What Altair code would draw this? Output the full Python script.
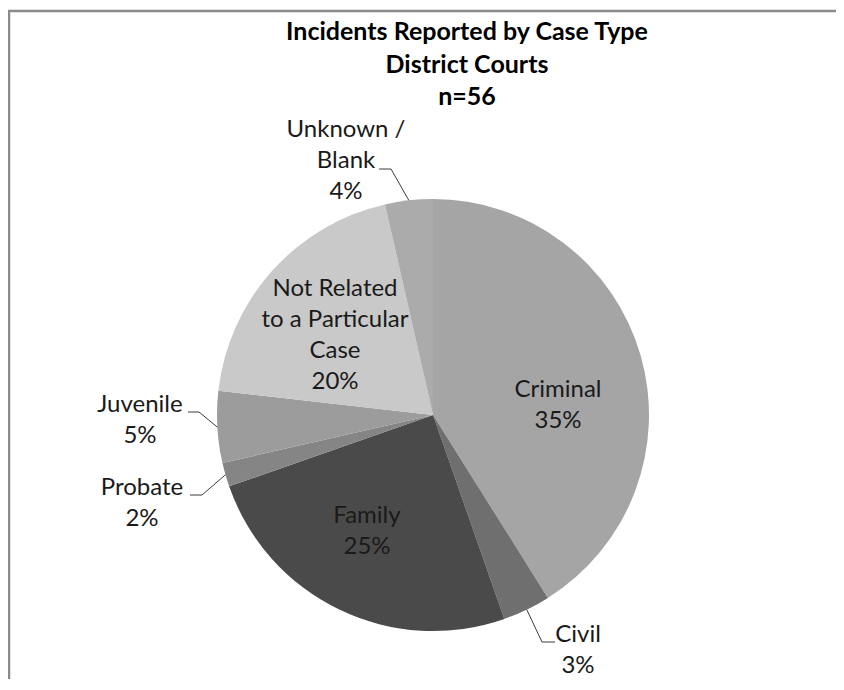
import math
import altair as alt
import pandas as pd

# ---------------- data ----------------
categories = ["Criminal", "Civil", "Family", "Probate", "Juvenile",
              "Not Related to a Particular Case", "Unknown / Blank"]
counts = [23, 2, 14, 1, 3, 11, 2]
pct_labels = ["35%", "3%", "25%", "2%", "5%", "20%", "4%"]
label_names = ["Criminal", "Civil", "Family", "Probate", "Juvenile",
               "Not Related\nto a Particular\nCase", "Unknown /\nBlank"]
title_lines = ["Incidents Reported by Case Type", "District Courts", "n=56"]

# ---------------- style / layout ----------------
slice_colors = ["#a5a5a5", "#6f6f6f", "#4a4a4a", "#858585", "#9c9c9c", "#c9c9c9", "#ababab"]
W, H = 828, 671
CX, CY, R = 425, 407, 216
FONT = "Lato"
# label anchor (center x, first baseline y) in view pixels
label_pos = {
    "Criminal": (550, 389),
    "Civil": (570, 634),
    "Family": (359, 515),
    "Probate": (134, 487),
    "Juvenile": (132, 404),
    "Not Related to a Particular Case": (327, 288),
    "Unknown / Blank": (338, 129),
}
# leader: (start x next to label, y of horizontal segment, elbow offset)
leader_pos = {
    "Unknown / Blank": (371, 161, 12),
    "Juvenile": (180, 404, 11),
    "Probate": (182, 487, 12),
    "Civil": (547, 634, -13),
}

total = sum(counts)
pie_df = pd.DataFrame({"case": categories, "count": counts, "idx": list(range(len(categories)))})

lab_rows = []
for c, n, p in zip(categories, label_names, pct_labels):
    x, y = label_pos[c]
    lab_rows.append({"case": c, "txt": n + "\n" + p, "lx": x, "ly": y})
lab_df = pd.DataFrame(lab_rows)

# leader lines: pie anchor computed from the data (mid angle of each slice)
lead_rows = []
cum = 0
for c, v in zip(categories, counts):
    mid = (cum + v / 2) / total * 2 * math.pi
    cum += v
    if c in leader_pos:
        sx, sy, e = leader_pos[c]
        ax = CX + R * math.sin(mid)
        ay = CY - R * math.cos(mid)
        lead_rows += [
            {"case": c, "k": 0, "x": sx, "y": sy},
            {"case": c, "k": 1, "x": sx + e, "y": sy},
            {"case": c, "k": 2, "x": ax, "y": ay},
        ]
lead_df = pd.DataFrame(lead_rows)

title_df = pd.DataFrame({"txt": ["\n".join(title_lines)], "tx": [459], "ty": [32]})

pie = alt.Chart(pie_df).mark_arc(outerRadius=R).encode(
    theta=alt.Theta("count:Q", stack=True),
    color=alt.Color("case:N", scale=alt.Scale(domain=categories, range=slice_colors), legend=None),
    order=alt.Order("idx:Q"),
    x=alt.value(CX),
    y=alt.value(CY),
)

labels = alt.Chart(lab_df).mark_text(
    align="center", baseline="alphabetic", lineBreak="\n", lineHeight=31,
    font=FONT, fontSize=24, color="#1a1a1a",
).encode(
    x=alt.X("lx:Q", scale=None, axis=None),
    y=alt.Y("ly:Q", scale=None, axis=None),
    text="txt:N",
)

leaders = alt.Chart(lead_df).mark_line(color="#3c3c3c", strokeWidth=1).encode(
    x=alt.X("x:Q", scale=None, axis=None),
    y=alt.Y("y:Q", scale=None, axis=None),
    detail="case:N",
    order="k:Q",
)

title = alt.Chart(title_df).mark_text(
    align="center", baseline="alphabetic", lineBreak="\n", lineHeight=32.5,
    font=FONT, fontSize=25, fontWeight="bold", color="#000000",
).encode(
    x=alt.X("tx:Q", scale=None, axis=None),
    y=alt.Y("ty:Q", scale=None, axis=None),
    text="txt:N",
)

frame_df = pd.DataFrame({"side": ["left", "top"]})
frame_left = alt.Chart(frame_df).transform_filter("datum.side == 'left'").mark_rule(
    color="#8a8a8a", strokeWidth=2.5).encode(
    x=alt.value(1), y=alt.value(3), y2=alt.value(H))
frame_top = alt.Chart(frame_df).transform_filter("datum.side == 'top'").mark_rule(
    color="#8a8a8a", strokeWidth=2.5).encode(
    x=alt.value(0), x2=alt.value(W), y=alt.value(3))

chart = alt.layer(pie, leaders, labels, title, frame_left, frame_top).properties(
    width=W, height=H, autosize="none", padding=0,
).configure_view(stroke=None)

chart.save("out.html", embed_options={"renderer": "svg", "actions": False})
